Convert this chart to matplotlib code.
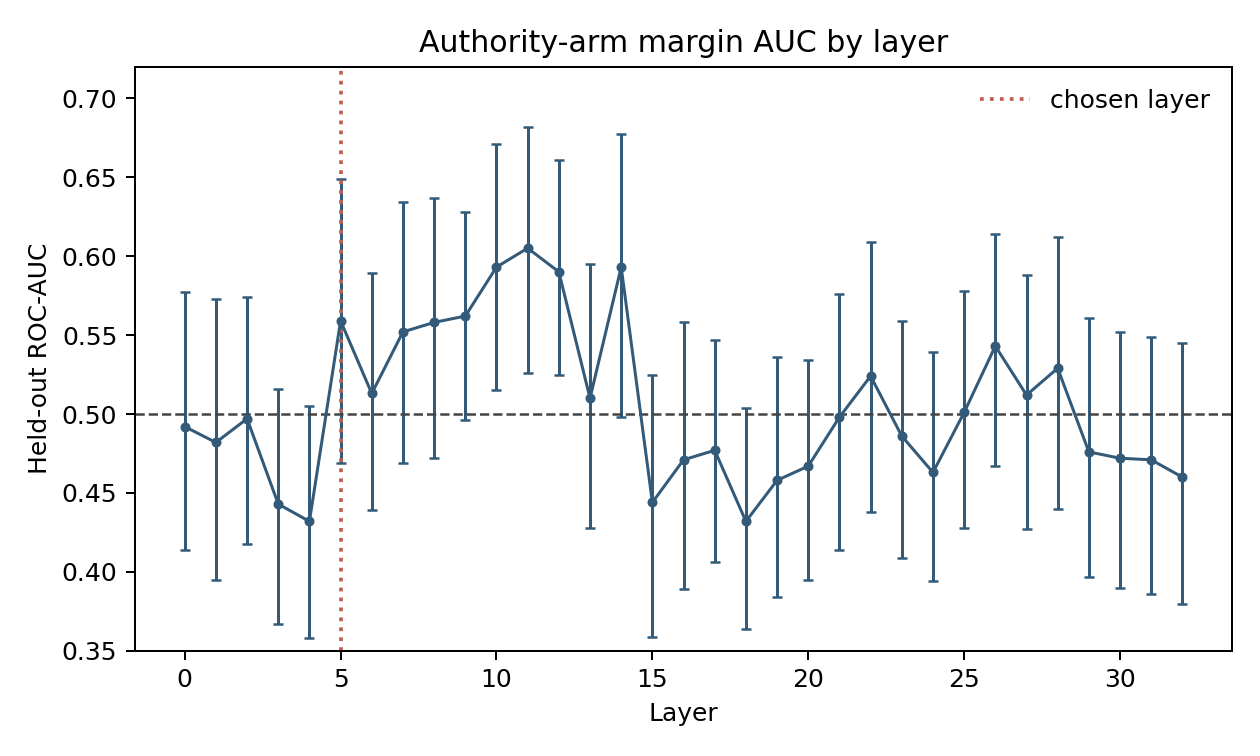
import numpy as np
import matplotlib
matplotlib.use("Agg")
import matplotlib.pyplot as plt

layers = list(range(33))
auc = [0.492, 0.482, 0.497, 0.443, 0.432, 0.559, 0.513, 0.552, 0.558, 0.562,
       0.593, 0.605, 0.590, 0.510, 0.593, 0.444, 0.471, 0.477, 0.432, 0.458,
       0.467, 0.498, 0.524, 0.486, 0.463, 0.501, 0.543, 0.512, 0.529, 0.476,
       0.472, 0.471, 0.460]
ci_high = [0.577, 0.573, 0.574, 0.516, 0.505, 0.649, 0.589, 0.634, 0.637, 0.628,
           0.671, 0.682, 0.661, 0.595, 0.677, 0.525, 0.558, 0.547, 0.504, 0.536,
           0.534, 0.576, 0.609, 0.559, 0.539, 0.578, 0.614, 0.588, 0.612, 0.561,
           0.552, 0.549, 0.545]
ci_low = [0.414, 0.395, 0.418, 0.367, 0.358, 0.469, 0.439, 0.469, 0.472, 0.496,
          0.515, 0.526, 0.525, 0.428, 0.498, 0.359, 0.389, 0.406, 0.364, 0.384,
          0.395, 0.414, 0.438, 0.409, 0.394, 0.428, 0.467, 0.427, 0.440, 0.397,
          0.390, 0.386, 0.380]
chosen_layer = 5

auc = np.array(auc)
yerr = [auc - np.array(ci_low), np.array(ci_high) - auc]

fig, ax = plt.subplots(figsize=(7, 4.2), dpi=180)
ax.errorbar(layers, auc, yerr=yerr, color="#335a78", marker="o", markersize=3,
            linewidth=1.2, elinewidth=1.2, capsize=2)
ax.axhline(0.5, color="#444444", linestyle="--", linewidth=1)
ax.axvline(chosen_layer, color="#c0604e", linestyle=":", linewidth=1.5,
           label="chosen layer")
ax.set_ylim(0.35, 0.72)
ax.set_xlabel("Layer")
ax.set_ylabel("Held-out ROC-AUC")
ax.set_title("Authority-arm margin AUC by layer")
ax.legend(loc="upper right", frameon=False)
plt.subplots_adjust(left=0.107, right=0.978, top=0.912, bottom=0.139)
plt.savefig("out.png")
